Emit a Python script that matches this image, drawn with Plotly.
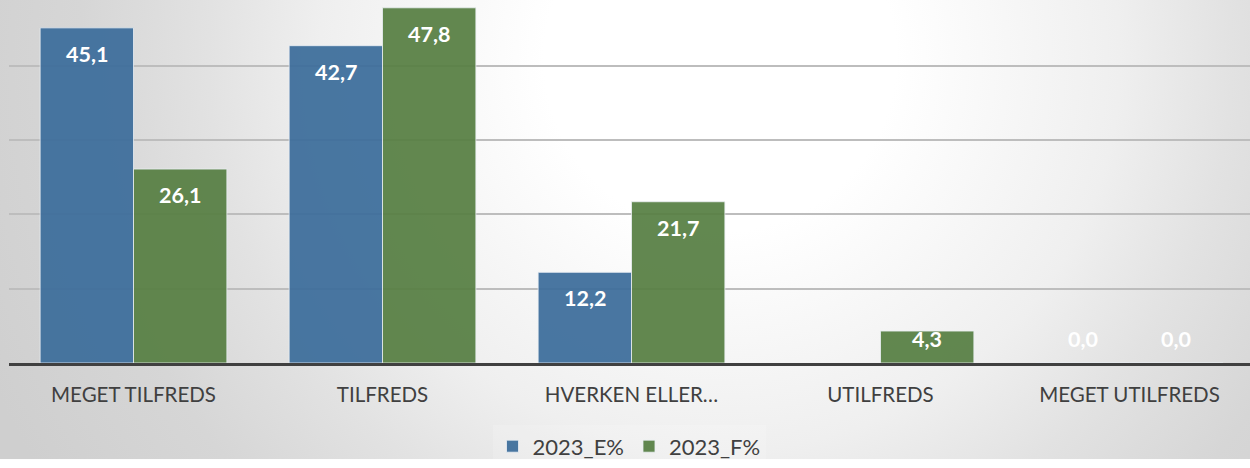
import base64
import plotly.graph_objects as go

categories = ["MEGET TILFREDS", "TILFREDS", "HVERKEN ELLER…", "UTILFREDS", "MEGET UTILFREDS"]
series_names = ["2023_E%", "2023_F%"]
values_e = [45.1, 42.7, 12.2, None, 0.0]
values_f = [26.1, 47.8, 21.7, 4.3, 0.0]
colors = ["#3c6d9b", "#577f43"]

W, H = 1250, 468
ML, MR, MT, MB = 9, 0, 0, 98
plot_w = W - ML - MR
plot_h = H - MT - MB
cat_px = 249.0
x_range = [-0.5, -0.5 + plot_w / cat_px]
y_max = 48.85
bargap = 0.25

svg = f'''<svg xmlns="http://www.w3.org/2000/svg" width="{W}" height="{H}" viewBox="0 0 {W} {H}">
<defs><radialGradient id="g" gradientUnits="userSpaceOnUse" cx="720" cy="60" r="800">
<stop offset="0" stop-color="#ffffff"/>
<stop offset="0.22" stop-color="#ffffff"/>
<stop offset="0.5" stop-color="#efefef"/>
<stop offset="0.64" stop-color="#e2e2e2"/>
<stop offset="0.8" stop-color="#d6d6d6"/>
<stop offset="1" stop-color="#cfcfcf"/>
</radialGradient></defs>
<rect width="{W}" height="{H}" fill="url(#g)"/></svg>'''
bg_src = "data:image/svg+xml;base64," + base64.b64encode(svg.encode()).decode()

x_idx = list(range(len(categories)))
fig = go.Figure()
for name, vals, col in zip(series_names, [values_e, values_f], colors):
    fig.add_trace(go.Bar(
        x=x_idx, y=vals, name=name,
        marker=dict(color=col, line=dict(color="rgba(235,240,245,0.8)", width=1)),
        opacity=0.93,
    ))

# data labels
half = (1 - bargap) / 2
offsets = [-half / 2, half / 2]
label_min = 6.73
annotations = []
for vals, off in zip([values_e, values_f], offsets):
    for i, v in enumerate(vals):
        if v is None:
            continue
        annotations.append(dict(
            x=i + off, y=max(v, label_min), xref="x", yref="y",
            text=f"{v:.1f}".replace(".", ","), showarrow=False,
            yshift=-26, font=dict(family="Lato", size=21.5, color="white", weight="bold"),
        ))

fig.update_layout(
    width=W, height=H,
    margin=dict(l=ML, r=MR, t=MT, b=MB, pad=0),
    paper_bgcolor="rgba(0,0,0,0)", plot_bgcolor="rgba(0,0,0,0)",
    barmode="group", bargap=bargap, bargroupgap=0.0,
    images=[dict(source=bg_src, xref="paper", yref="paper",
                 x=-ML / plot_w, y=1 + MT / plot_h,
                 sizex=W / plot_w, sizey=H / plot_h,
                 xanchor="left", yanchor="top", sizing="stretch", layer="below")],
    xaxis=dict(range=x_range, tickvals=x_idx, ticktext=categories,
               showgrid=False, zeroline=False, showline=True,
               linecolor="#404040", linewidth=3, ticks="",
               ticklabelstandoff=11,
               tickfont=dict(family="Lato", size=20.5, color="#404040")),
    yaxis=dict(range=[0, y_max], dtick=10, showgrid=True, gridcolor="#bdbdbd",
               gridwidth=2, zeroline=False, showticklabels=False, showline=False),
    legend=dict(orientation="h", x=(629 - ML) / plot_w, xanchor="center",
                y=-(455 - plot_h) / plot_h, yanchor="middle",
                font=dict(family="Lato", size=22, color="#404040"),
                bgcolor="rgba(255,255,255,0.15)", itemwidth=30, traceorder="normal"),
    annotations=annotations,
    showlegend=True,
)

fig.write_html("out.html", config={"displayModeBar": False},
               post_script="document.body.style.margin='0';document.body.style.overflow='hidden';")
